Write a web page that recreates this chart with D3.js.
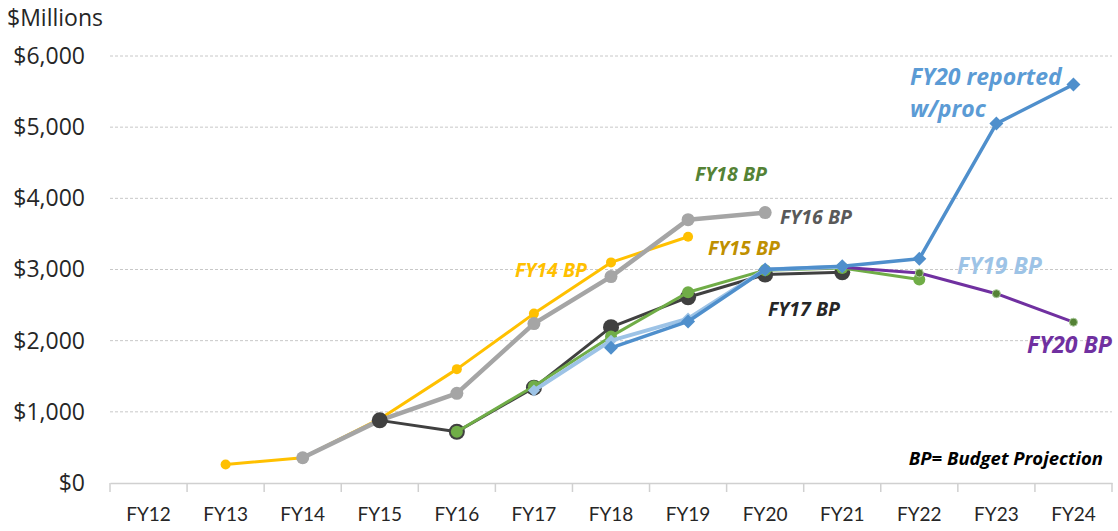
<!DOCTYPE html>
<html>
<head>
<meta charset="utf-8">
<script src="https://cdn.jsdelivr.net/npm/d3@7"></script>
<style>
  body { margin: 0; background: #fff; }
  svg { display: block; font-family: "Open Sans", sans-serif; }
  .note { font-weight: bold; font-style: italic; }
</style>
</head>
<body>
<svg id="chart"></svg>
<script>
// fiscal years on the x axis
const years = ['FY12', 'FY13', 'FY14', 'FY15', 'FY16', 'FY17', 'FY18', 'FY19', 'FY20', 'FY21', 'FY22', 'FY23', 'FY24'];
const yTicks = [0, 1000, 2000, 3000, 4000, 5000, 6000];

// each projection, $ millions (null = no value that year)
const fy14bp    = [null, 260, 355, 900, 1600, 2380, 3100, 3460, null, null, null, null, null];
const fy16bp    = [null, null, 355, 880, 1260, 2240, 2900, 3700, 3800, null, null, null, null];
const fy17bp    = [null, null, null, 880, 720, 1340, 2190, 2610, 2930, 2960, null, null, null];
const fy18bp    = [null, null, null, null, 720, 1360, 2060, 2680, 2990, 3020, 2860, null, null];
const fy20bp    = [null, null, null, null, null, null, null, null, 3000, 3030, 2950, 2660, 2260];
const fy19bp    = [null, null, null, null, null, 1300, 2000, 2310, 3000, 3040, null, null, null];
const fy20rep   = [null, null, null, null, null, null, 1900, 2270, 3000, 3045, 3150, 5050, 5600];

const width = 1118, height = 531;
const margin = { top: 56, right: 6, bottom: 48, left: 110 };

const svg = d3.select('#chart').attr('width', width).attr('height', height);

const x = d3.scaleBand().domain(years).range([margin.left, width - margin.right]);
const y = d3.scaleLinear().domain([0, 6000]).range([height - margin.bottom, margin.top]);
const cx = d => x(d) + x.bandwidth() / 2;

// gridlines
svg.append('g')
    .selectAll('line')
    .data(yTicks.filter(d => d > 0))
    .enter().append('line')
    .attr('x1', margin.left).attr('x2', width - margin.right)
    .attr('y1', d => y(d)).attr('y2', d => y(d))
    .attr('stroke', '#c8c8c8')
    .attr('stroke-dasharray', '3,2');

// y axis labels
const yAxis = svg.append('g')
    .attr('transform', `translate(${margin.left},0)`)
    .call(d3.axisLeft(y).tickValues(yTicks).tickSize(0).tickPadding(25)
        .tickFormat(d => '$' + d3.format(',')(d)));
yAxis.select('.domain').remove();
yAxis.selectAll('text').attr('font-size', 23).attr('fill', '#262626')
    .attr('font-family', '"Open Sans", sans-serif');

// x axis
const xAxis = svg.append('g')
    .attr('transform', `translate(0,${y(0)})`)
    .call(d3.axisBottom(x).tickSize(0).tickPadding(25));
xAxis.select('.domain').attr('stroke', '#d0d0d0').attr('stroke-width', 1.5);
xAxis.selectAll('text').attr('font-size', 19).attr('fill', '#262626')
    .attr('font-family', 'Lato, sans-serif');
// category separators
svg.append('g')
    .selectAll('line')
    .data(years.map(d => x(d)).concat([width - margin.right]))
    .enter().append('line')
    .attr('x1', d => d).attr('x2', d => d)
    .attr('y1', y(0)).attr('y2', y(0) + 9)
    .attr('stroke', '#d0d0d0').attr('stroke-width', 1.5);

svg.append('text')
    .attr('x', 7).attr('y', 26)
    .attr('font-size', 23).attr('fill', '#262626')
    .text('$Millions');

const line = d3.line()
    .defined(d => d.v !== null)
    .x(d => cx(d.year))
    .y(d => y(d.v));

const diamond = r => `M0,${-r}L${r},0L0,${r}L${-r},0Z`;

function drawSeries(values, opts) {
    const pts = years.map((year, i) => ({ year, v: values[i] }));
    const g = svg.append('g');
    g.append('path')
        .datum(pts)
        .attr('d', line)
        .attr('fill', 'none')
        .attr('stroke', opts.color)
        .attr('stroke-width', opts.width)
        .attr('stroke-linejoin', 'round');
    const m = g.selectAll('.m')
        .data(pts.filter(d => d.v !== null))
        .enter();
    if (opts.shape === 'diamond') {
        m.append('path')
            .attr('d', diamond(opts.r))
            .attr('transform', d => `translate(${cx(d.year)},${y(d.v)})`)
            .attr('fill', opts.marker || opts.color);
    } else {
        m.append('circle')
            .attr('cx', d => cx(d.year))
            .attr('cy', d => y(d.v))
            .attr('r', opts.r)
            .attr('fill', opts.marker || opts.color)
            .attr('stroke', opts.outline || 'none')
            .attr('stroke-width', 1);
    }
}

drawSeries(fy14bp,  { color: '#FFC000', width: 3,   r: 5 });
drawSeries(fy16bp,  { color: '#A5A5A5', width: 4.5, r: 6.5 });
drawSeries(fy17bp,  { color: '#404040', width: 3,   r: 8 });
drawSeries(fy18bp,  { color: '#70AD47', width: 3,   r: 6 });
drawSeries(fy20bp,  { color: '#7030A0', width: 3,   r: 4, marker: '#548235', outline: '#a9c99a' });
drawSeries(fy19bp,  { color: '#9DC3E6', width: 4,   r: 6, shape: 'diamond' });
drawSeries(fy20rep, { color: '#4F8FCC', width: 3.5, r: 7, shape: 'diamond' });

// series annotations
function note(txt, px, py, color, size) {
    svg.append('text')
        .attr('class', 'note')
        .attr('x', px).attr('y', py)
        .attr('font-size', size)
        .attr('fill', color)
        .text(txt);
}
note('FY14 BP', 515, 277, '#FFC000', 19.5);
note('FY15 BP', 708, 255, '#BF9000', 19.5);
note('FY16 BP', 780, 224, '#595959', 19.5);
note('FY17 BP', 768, 316, '#262626', 19.5);
note('FY18 BP', 695, 181, '#548235', 19.5);
note('FY19 BP', 957, 274, '#9DC3E6', 23);
note('FY20 BP', 1027, 353, '#7030A0', 23);
note('FY20 reported', 910, 85, '#5B9BD5', 23);
note('w/proc', 910, 117, '#5B9BD5', 23);

svg.append('text')
    .attr('class', 'note')
    .attr('x', 1103).attr('y', 465)
    .attr('text-anchor', 'end')
    .attr('font-size', 18.5).attr('fill', '#000')
    .text('BP= Budget Projection');
</script>
</body>
</html>
